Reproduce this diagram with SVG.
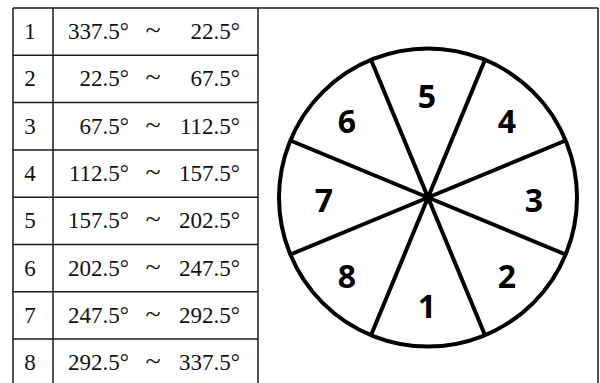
<svg xmlns="http://www.w3.org/2000/svg" width="600" height="383" viewBox="0 0 600 383">
<style>
.ln{stroke:#1a1a1a;stroke-width:1.5;fill:none}
.t{font-family:"Liberation Serif","DejaVu Serif",serif;font-size:23px;fill:#111}
.n{text-anchor:middle}
.e{text-anchor:end}
.tl{font-family:"Liberation Serif","DejaVu Serif",serif;font-size:28px;fill:#111;text-anchor:middle}
.w{font-family:"Noto Sans","DejaVu Sans",sans-serif;font-weight:bold;font-size:32px;fill:#000;text-anchor:middle}
.sp{stroke:#000;stroke-width:4;stroke-linecap:butt}
</style>
<rect width="600" height="383" fill="#fff"/>
<g id="table">
<path class="ln" d="M13 8H598M13 8V383M53 8V383M258 8V383M598 8V383"/>
<path class="ln" d="M13 55.3H258M13 102.6H258M13 149.9H258M13 197.2H258M13 244.5H258M13 291.8H258M13 339.1H258"/>
<g id="row1"><text class="t n" x="30" y="39">1</text><text class="t e" x="129" y="39">337.5°</text><text class="tl" x="153" y="39">~</text><text class="t e" x="240" y="39">22.5°</text></g>
<g id="row2"><text class="t n" x="30" y="86.3">2</text><text class="t e" x="129" y="86.3">22.5°</text><text class="tl" x="153" y="86.3">~</text><text class="t e" x="240" y="86.3">67.5°</text></g>
<g id="row3"><text class="t n" x="30" y="133.6">3</text><text class="t e" x="129" y="133.6">67.5°</text><text class="tl" x="153" y="133.6">~</text><text class="t e" x="240" y="133.6">112.5°</text></g>
<g id="row4"><text class="t n" x="30" y="180.9">4</text><text class="t e" x="129" y="180.9">112.5°</text><text class="tl" x="153" y="180.9">~</text><text class="t e" x="240" y="180.9">157.5°</text></g>
<g id="row5"><text class="t n" x="30" y="228.2">5</text><text class="t e" x="129" y="228.2">157.5°</text><text class="tl" x="153" y="228.2">~</text><text class="t e" x="240" y="228.2">202.5°</text></g>
<g id="row6"><text class="t n" x="30" y="275.5">6</text><text class="t e" x="129" y="275.5">202.5°</text><text class="tl" x="153" y="275.5">~</text><text class="t e" x="240" y="275.5">247.5°</text></g>
<g id="row7"><text class="t n" x="30" y="322.8">7</text><text class="t e" x="129" y="322.8">247.5°</text><text class="tl" x="153" y="322.8">~</text><text class="t e" x="240" y="322.8">292.5°</text></g>
<g id="row8"><text class="t n" x="30" y="370.1">8</text><text class="t e" x="129" y="370.1">292.5°</text><text class="tl" x="153" y="370.1">~</text><text class="t e" x="240" y="370.1">337.5°</text></g>
</g>
<g id="wheel">
<circle cx="428" cy="197.5" r="149" fill="none" stroke="#000" stroke-width="4"/>
<g id="spokes">
<line class="sp" x1="428" y1="197.5" x2="371" y2="59.8"/>
<line class="sp" x1="428" y1="197.5" x2="485" y2="59.8"/>
<line class="sp" x1="428" y1="197.5" x2="565.7" y2="140.5"/>
<line class="sp" x1="428" y1="197.5" x2="565.7" y2="254.5"/>
<line class="sp" x1="428" y1="197.5" x2="485" y2="335.2"/>
<line class="sp" x1="428" y1="197.5" x2="371" y2="335.2"/>
<line class="sp" x1="428" y1="197.5" x2="290.3" y2="254.5"/>
<line class="sp" x1="428" y1="197.5" x2="290.3" y2="140.5"/>
</g>
<circle cx="428" cy="197.5" r="5" fill="#000"/>
<text class="w" x="427" y="108">5</text>
<text class="w" x="347" y="133">6</text>
<text class="w" x="507" y="133">4</text>
<text class="w" x="324" y="212">7</text>
<text class="w" x="534" y="212">3</text>
<text class="w" x="347" y="288">8</text>
<text class="w" x="507" y="288">2</text>
<text class="w" x="427" y="318">1</text>
</g>
</svg>
